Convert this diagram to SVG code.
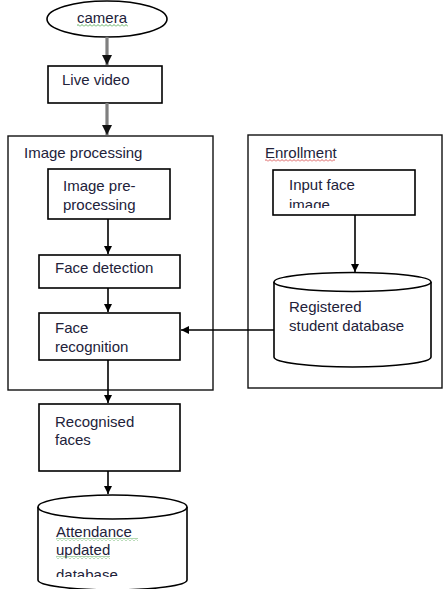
<svg xmlns="http://www.w3.org/2000/svg" width="447" height="589" viewBox="0 0 447 589">
<style>
.box{fill:#fff;stroke:#000;stroke-width:1.6}
.cont{fill:#fff;stroke:#111;stroke-width:1.4}
.t{font-family:"Liberation Sans",Arial,sans-serif;font-size:15px;fill:#22223a}
.ln{stroke:#000;stroke-width:1.6;fill:none}
.gl{stroke:#7f7f7f;stroke-width:3.2;fill:none}
</style>
<defs>
<marker id="ah" viewBox="0 0 10 10" refX="10" refY="5" markerWidth="8" markerHeight="8" markerUnits="userSpaceOnUse" orient="auto">
<path d="M0,0 L10,5 L0,10 z" fill="#000"/>
</marker>
<marker id="ahg" viewBox="0 0 10 10" refX="10" refY="5" markerWidth="3.2" markerHeight="3.2" orient="auto">
<path d="M0,0 L10,5 L0,10 z" fill="#111"/>
</marker>
<pattern id="wg" width="4" height="3" patternUnits="userSpaceOnUse"><path d="M0,2.5 L2,0.5 L4,2.5" stroke="#3a9a3a" stroke-width="0.8" fill="none"/></pattern>
<pattern id="wr" width="4" height="3" patternUnits="userSpaceOnUse"><path d="M0,2.5 L2,0.5 L4,2.5" stroke="#d03030" stroke-width="0.8" fill="none"/></pattern>
<clipPath id="clipA"><rect x="0" y="0" width="447" height="577"/></clipPath>
<clipPath id="clipB"><rect x="0" y="0" width="447" height="208"/></clipPath>
</defs>

<g id="image-processing">
<rect class="cont" x="8" y="136" width="205" height="254"/>
<text class="t" x="24" y="158">Image processing</text>
</g>
<g id="enrollment">
<rect class="cont" x="248" y="135" width="194" height="253"/>
<text class="t" x="265" y="158">Enrollment</text>
<rect x="265" y="159" width="70" height="3" fill="url(#wr)"/>
</g>

<g id="camera">
<ellipse class="box" cx="107" cy="19" rx="60" ry="18"/>
<text class="t" x="77" y="23">camera</text>
<rect x="77" y="24" width="51" height="3" fill="url(#wg)"/>
</g>
<g id="live-video">
<rect class="box" x="48" y="66" width="114" height="37"/>
<text class="t" x="62" y="85">Live video</text>
</g>
<g id="image-pre-processing">
<rect class="box" x="48" y="169" width="122" height="50"/>
<text class="t" x="63" y="191">Image pre-</text>
<text class="t" x="63" y="210">processing</text>
</g>
<g id="face-detection">
<rect class="box" x="39" y="255" width="141" height="33"/>
<text class="t" x="55" y="273">Face detection</text>
</g>
<g id="face-recognition">
<rect class="box" x="39" y="313" width="141" height="47"/>
<text class="t" x="55" y="333">Face</text>
<text class="t" x="55" y="352">recognition</text>
</g>
<g id="recognised-faces">
<rect class="box" x="39" y="404" width="141" height="67"/>
<text class="t" x="55" y="427">Recognised</text>
<text class="t" x="55" y="445">faces</text>
</g>
<g id="input-face-image">
<rect class="box" x="273" y="170" width="142" height="45"/>
<text class="t" x="289" y="190">Input face</text>
<text class="t" x="289" y="210" clip-path="url(#clipB)">image</text>
</g>
<g id="registered-db">
<path class="box" d="M274,282 L274,357 A78.5,10 0 0 0 431,357 L431,282"/>
<ellipse class="box" cx="352.5" cy="282" rx="78.5" ry="9.5"/>
<text class="t" x="289" y="312">Registered</text>
<text class="t" x="289" y="331">student database</text>
</g>
<g id="attendance-db">
<path class="box" d="M38,507 L38,580 A74.5,10 0 0 0 187,580 L187,507"/>
<ellipse class="box" cx="112.5" cy="507" rx="74.5" ry="12"/>
<text class="t" x="56" y="537">Attendance</text>
<rect x="56" y="538" width="82" height="3" fill="url(#wg)"/>
<text class="t" x="56" y="555">updated</text>
<rect x="56" y="556" width="54" height="3" fill="url(#wg)"/>
<text class="t" x="56" y="580" clip-path="url(#clipA)">database</text>
</g>

<g id="connectors">
<line class="gl" x1="107" y1="37" x2="107" y2="65" marker-end="url(#ahg)"/>
<line class="gl" x1="107" y1="103" x2="107" y2="135" marker-end="url(#ahg)"/>
<line class="ln" x1="108" y1="219" x2="108" y2="254" marker-end="url(#ah)"/>
<line class="ln" x1="108" y1="288" x2="108" y2="312" marker-end="url(#ah)"/>
<line class="ln" x1="108" y1="360" x2="108" y2="403" marker-end="url(#ah)"/>
<line class="ln" x1="108" y1="471" x2="108" y2="494" marker-end="url(#ah)"/>
<line class="ln" x1="355" y1="215" x2="355" y2="272" marker-end="url(#ah)"/>
<line class="ln" x1="274" y1="330" x2="181" y2="330" marker-end="url(#ah)"/>
</g>
</svg>
